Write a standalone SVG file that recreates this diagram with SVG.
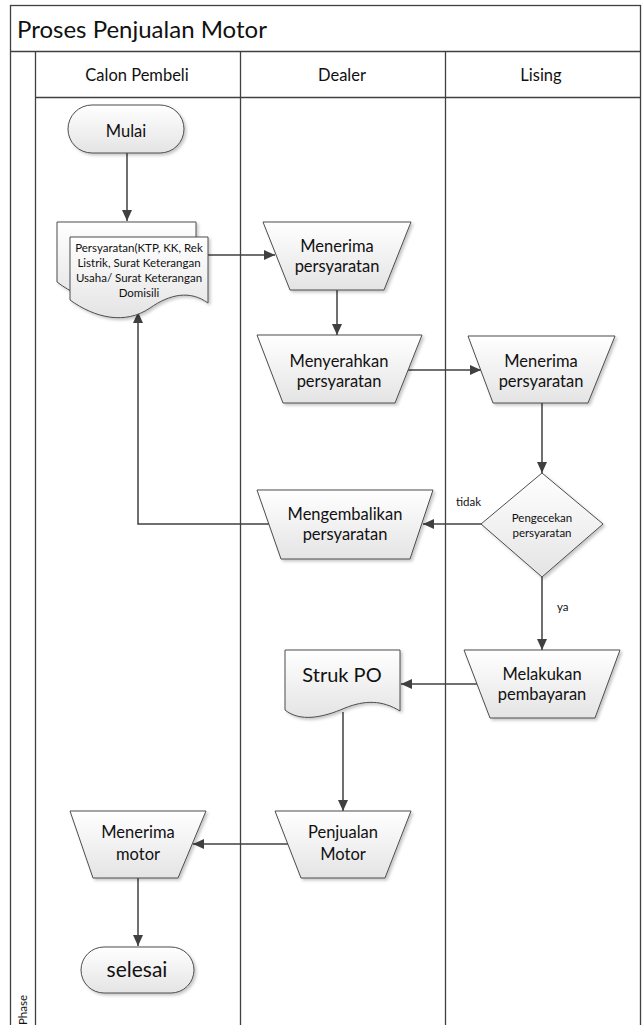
<svg xmlns="http://www.w3.org/2000/svg" width="642" height="1025" viewBox="0 0 642 1025">
  <style>
    text { font-family: Lato, "Open Sans", "Liberation Sans", sans-serif; fill: #111111; }
    .lane { fill: none; stroke: #404040; stroke-width: 1.3; }
    .shape { fill: url(#fillGrad); stroke: #4d4d4d; stroke-width: 1; filter: url(#shadow); }
    .conn { fill: none; stroke: #404040; stroke-width: 1.5; }
    .hdr { font-size: 16.5px; text-anchor: middle; }
    .lbl { font-size: 16.5px; text-anchor: middle; }
    .small { font-size: 11.5px; text-anchor: middle; }
  </style>
  <defs>
    <linearGradient id="fillGrad" x1="0" y1="0" x2="0" y2="1">
      <stop offset="0" stop-color="#ffffff"/>
      <stop offset="1" stop-color="#e4e4e4"/>
    </linearGradient>
    <filter id="shadow" x="-10%" y="-10%" width="130%" height="130%">
      <feDropShadow dx="2" dy="2" stdDeviation="1.5" flood-color="#000" flood-opacity="0.22"/>
    </filter>
    <marker id="arrow" markerUnits="userSpaceOnUse" markerWidth="12" markerHeight="12" viewBox="0 0 12 12" refX="11" refY="6" orient="auto">
      <path d="M0,1 L11,6 L0,11 Z" fill="#404040"/>
    </marker>
  </defs>

  <!-- pool frame, title and lanes -->
  <g id="pool">
    <rect x="10.5" y="5.5" width="630" height="1030" fill="#ffffff" stroke="#404040" stroke-width="1.3"/>
    <line class="lane" x1="10.5" y1="51.5" x2="641" y2="51.5"/>
    <line class="lane" x1="35.5" y1="97.5" x2="641" y2="97.5"/>
    <line class="lane" x1="35.5" y1="51.5" x2="35.5" y2="1025"/>
    <line class="lane" x1="240.5" y1="51.5" x2="240.5" y2="1025"/>
    <line class="lane" x1="445.5" y1="51.5" x2="445.5" y2="1025"/>
    <text x="17" y="38" font-size="24">Proses Penjualan Motor</text>
    <text class="hdr" x="137" y="81">Calon Pembeli</text>
    <text class="hdr" x="342" y="81">Dealer</text>
    <text class="hdr" x="541" y="81">Lising</text>
    <text x="0" y="0" font-size="11.5" transform="translate(27,1025) rotate(-90)">Phase</text>
  </g>

  <!-- connectors -->
  <g id="connectors">
    <line class="conn" x1="127" y1="153" x2="127" y2="221" marker-end="url(#arrow)"/>
    <line class="conn" x1="208" y1="255" x2="275" y2="255" marker-end="url(#arrow)"/>
    <line class="conn" x1="337" y1="290" x2="337" y2="335" marker-end="url(#arrow)"/>
    <line class="conn" x1="408" y1="370" x2="481" y2="370" marker-end="url(#arrow)"/>
    <line class="conn" x1="542" y1="403" x2="542" y2="473" marker-end="url(#arrow)"/>
    <line class="conn" x1="481" y1="524" x2="423" y2="524" marker-end="url(#arrow)"/>
    <polyline class="conn" points="269,524 138,524 138,312" marker-end="url(#arrow)"/>
    <line class="conn" x1="542" y1="577" x2="542" y2="650" marker-end="url(#arrow)"/>
    <line class="conn" x1="477" y1="684" x2="401" y2="684" marker-end="url(#arrow)"/>
    <line class="conn" x1="343" y1="712" x2="343" y2="811" marker-end="url(#arrow)"/>
    <line class="conn" x1="288" y1="844" x2="193" y2="844" marker-end="url(#arrow)"/>
    <line class="conn" x1="138" y1="878" x2="138" y2="946" marker-end="url(#arrow)"/>
    <text x="456" y="506" font-size="11.5">tidak</text>
    <text x="557" y="611" font-size="11.5">ya</text>
  </g>

  <g id="mulai">
    <rect class="shape" x="68" y="105" width="116" height="48" rx="24" ry="24"/>
    <text class="lbl" x="126" y="137">Mulai</text>
  </g>

  <g id="persyaratan-doc">
    <path class="shape" d="M57,222 H196 V288 C178,276 160,279 141,292 C117,309 85,303 57,282 Z"/>
    <path class="shape" d="M70,237 H208 V303 C190,290 170,294 150,308 C125,325 95,318 70,300 Z"/>
    <text class="small" x="139" y="252">Persyaratan(KTP, KK, Rek</text>
    <text class="small" x="139" y="267">Listrik, Surat Keterangan</text>
    <text class="small" x="139" y="282">Usaha/ Surat Keterangan</text>
    <text class="small" x="139" y="297">Domisili</text>
  </g>

  <g id="dealer-menerima">
    <path class="shape" d="M263,222 H411 L384,290 H290 Z"/>
    <text class="lbl" x="337" y="252">Menerima</text>
    <text class="lbl" x="337" y="272">persyaratan</text>
  </g>

  <g id="menyerahkan">
    <path class="shape" d="M257,335 H422 L395,403 H283 Z"/>
    <text class="lbl" x="339" y="367">Menyerahkan</text>
    <text class="lbl" x="339" y="387">persyaratan</text>
  </g>

  <g id="lising-menerima">
    <path class="shape" d="M468,336 H615 L588,403 H493 Z"/>
    <text class="lbl" x="541" y="367">Menerima</text>
    <text class="lbl" x="541" y="387">persyaratan</text>
  </g>

  <g id="pengecekan">
    <path class="shape" d="M542,473 L603,524 L542,577 L481,524 Z"/>
    <text class="small" x="542" y="522">Pengecekan</text>
    <text class="small" x="542" y="537">persyaratan</text>
  </g>

  <g id="mengembalikan">
    <path class="shape" d="M257,490 H433 L410,559 H281 Z"/>
    <text class="lbl" x="345" y="520">Mengembalikan</text>
    <text class="lbl" x="345" y="540">persyaratan</text>
  </g>

  <g id="melakukan">
    <path class="shape" d="M464,650 H620 L595,718 H490 Z"/>
    <text class="lbl" x="542" y="680">Melakukan</text>
    <text class="lbl" x="542" y="700">pembayaran</text>
  </g>

  <g id="struk-po">
    <path class="shape" d="M285,650 H400 V711 C382,700 365,700 345,708 C322,718 300,722 285,710 Z"/>
    <text x="342" y="682" font-size="20" text-anchor="middle">Struk PO</text>
  </g>

  <g id="penjualan">
    <path class="shape" d="M275,811 H411 L385,878 H301 Z"/>
    <text class="lbl" x="343" y="838">Penjualan</text>
    <text class="lbl" x="343" y="860">Motor</text>
  </g>

  <g id="menerima-motor">
    <path class="shape" d="M70,811 H206 L178,878 H93 Z"/>
    <text class="lbl" x="138" y="838">Menerima</text>
    <text class="lbl" x="138" y="860">motor</text>
  </g>

  <g id="selesai">
    <rect class="shape" x="81" y="947" width="113" height="46" rx="23" ry="23"/>
    <text x="137" y="977" font-size="21" text-anchor="middle">selesai</text>
  </g>
</svg>
